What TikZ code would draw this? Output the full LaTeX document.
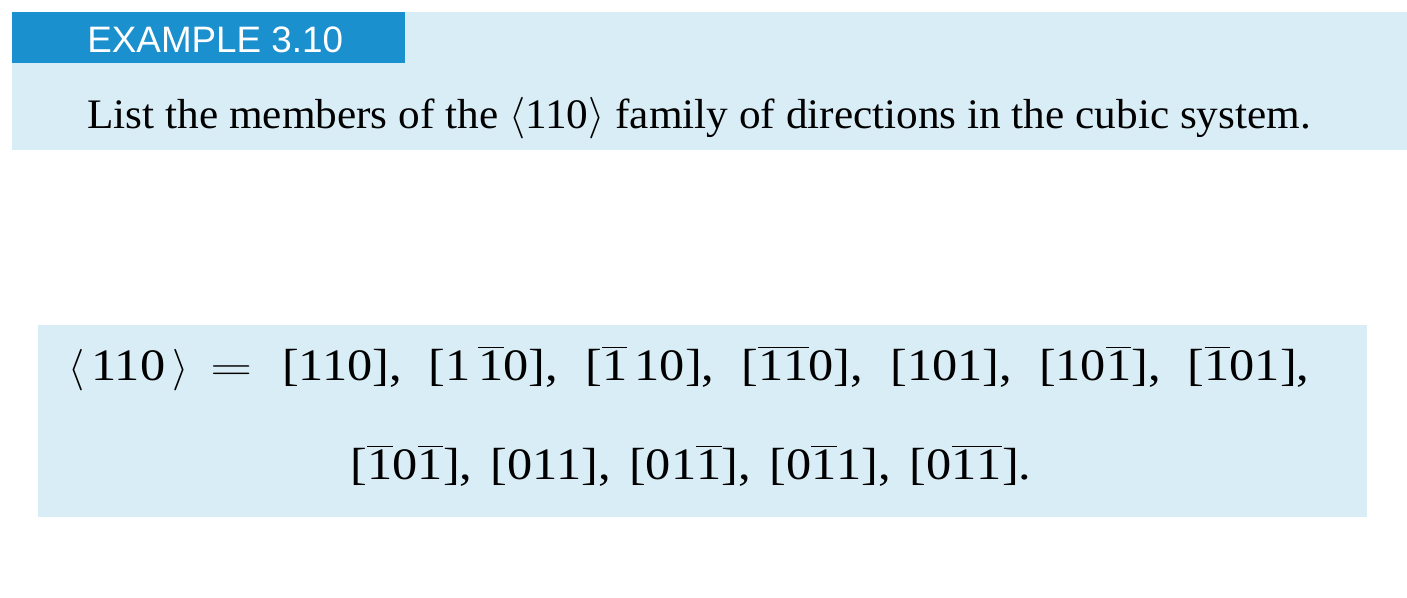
\documentclass[tikz,border=0pt]{standalone}
\usepackage{fontspec}
\setmainfont{Liberation Serif}
\newfontfamily\headfont{Liberation Sans}
\newfontfamily\taskfont[FakeStretch=1.03]{Liberation Serif}
\newfontfamily\eqfont[FakeStretch=1.12]{Liberation Serif}
\usetikzlibrary{positioning}
\definecolor{tabblue}{RGB}{27,144,206}
\definecolor{paleblue}{RGB}{217,237,246}
\newcommand{\nb}[1]{$\overline{\mbox{#1}}$}

\begin{document}
\begin{tikzpicture}[x=0.5pt,y=-0.5pt]
  \tikzstyle{textline} = [inner sep=0pt, anchor=base, font=\taskfont\fontsize{21}{24}\selectfont]
  \tikzstyle{eqline} = [inner sep=0pt, anchor=base, font={\eqfont\fontsize{22.5}{27}\selectfont}]

  \useasboundingbox (0,0) rectangle (1407,598);

  % example header
  \fill[paleblue] (12,12) rectangle (1407,150);
  \fill[tabblue] (12,12) rectangle (405,63);
  \node[textline, anchor=base west, text=white, font=\headfont\fontsize{18.4}{20}\selectfont] (title) at (87,53) {EXAMPLE 3.10};
  \node[textline, anchor=base west] (task) at (87,129)
    {List the members of the $\langle$110$\rangle$ family of directions in the cubic system.};

  % answer box
  \fill[paleblue] (38,325) rectangle (1367,517);
  \node[eqline] (line1) at (689,380)
    {\spaceskip=0.6em $\bigl\langle\,$110$\,\bigr\rangle$\hspace{11pt}\scalebox{1.4}[1]{$=$}\hspace{15pt}[110], [1\,\nb{1}0], [\nb{1}\,10], [\nb{1}\nb{1}0], [101], [10\nb{1}], [\nb{1}01],};
  \node[eqline] (line2) at (691,479)
    {\spaceskip=0.41em [\nb{1}0\nb{1}], [011], [01\nb{1}], [0\nb{1}1], [0\nb{1}\nb{1}].};
\end{tikzpicture}
\end{document}
